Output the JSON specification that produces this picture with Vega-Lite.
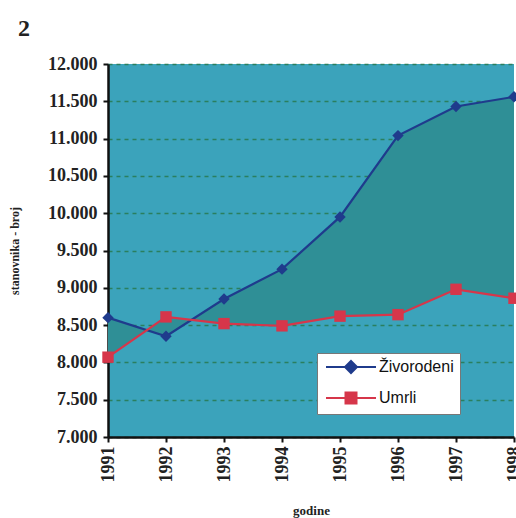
{
  "$schema": "https://vega.github.io/schema/vega-lite/v6.json",
  "autosize": {"type": "none"},
  "padding": {"left": 108, "top": 64, "right": 2, "bottom": 81},
  "width": 406,
  "height": 373,
  "background": "#ffffff",
  "title": {"text": "2", "anchor": "start", "frame": "group", "dx": -90, "offset": 14, "fontSize": 24, "font": "Liberation Serif", "fontWeight": "bold", "color": "#222222"},
  "data": {"values": [
    {"godina": 1991, "Živorodeni": 8600, "Umrli": 8070},
    {"godina": 1992, "Živorodeni": 8350, "Umrli": 8610},
    {"godina": 1993, "Živorodeni": 8850, "Umrli": 8520},
    {"godina": 1994, "Živorodeni": 9250, "Umrli": 8490},
    {"godina": 1995, "Živorodeni": 9950, "Umrli": 8620},
    {"godina": 1996, "Živorodeni": 11040, "Umrli": 8640},
    {"godina": 1997, "Živorodeni": 11430, "Umrli": 8980},
    {"godina": 1998, "Živorodeni": 11560, "Umrli": 8860}
  ]},
  "config": {
    "view": {"fill": "#3ba3bb", "stroke": null},
    "axis": {
      "labelFont": "Liberation Serif", "labelFontWeight": "bold", "labelFontSize": 18, "labelColor": "#222222",
      "titleFont": "Liberation Serif", "titleFontWeight": "bold", "titleColor": "#222222",
      "domainColor": "#111111", "domainWidth": 2.5, "tickColor": "#111111", "tickWidth": 2, "tickSize": 5, "labelOverlap": false
    },
    "legend": {"title": null, "orient": "none", "legendX": 209, "legendY": 289, "fillColor": "#ffffff", "strokeColor": "#777777", "padding": 6,
      "labelFont": "Liberation Sans", "labelFontSize": 16, "labelColor": "#111111", "labelOffset": 40, "rowPadding": 11, "symbolSize": 100, "symbolStrokeWidth": 2, "symbolOpacity": 1}
  },
  "layer": [
    {
      "mark": {"type": "area", "fill": "#2f8f96", "opacity": 1},
      "encoding": {
        "x": {"field": "godina", "type": "quantitative", "scale": {"domain": [1991, 1998], "nice": false},
          "axis": {"title": "godine", "values": [1991, 1992, 1993, 1994, 1995, 1996, 1997, 1998], "format": "d", "labelAngle": 270, "labelPadding": 4, "grid": false, "titleFontSize": 13, "titleY": 73, "titleBaseline": "middle"}},
        "y": {"field": "Živorodeni", "type": "quantitative", "scale": {"domain": [7000, 12000], "nice": false, "zero": false},
          "axis": {"title": "stanovnika - broj", "values": [7000, 7500, 8000, 8500, 9000, 9500, 10000, 10500, 11000, 11500, 12000], "labelExpr": "replace(format(datum.value, ',.0f'), ',', '.')", "labelPadding": 6, "grid": true, "gridColor": "#2a7f5e", "gridDash": [4, 4], "gridWidth": 1.5, "titleFontSize": 12, "titleX": -87}},
        "y2": {"field": "Umrli"}
      }
    },
    {
      "transform": [{"fold": ["Živorodeni", "Umrli"], "as": ["serija", "broj"]}],
      "encoding": {
        "x": {"field": "godina", "type": "quantitative",
          "axis": {"title": "godine", "values": [1991, 1992, 1993, 1994, 1995, 1996, 1997, 1998], "format": "d", "labelAngle": 270, "labelPadding": 4, "grid": false, "titleFontSize": 13, "titleY": 73, "titleBaseline": "middle"}},
        "y": {"field": "broj", "type": "quantitative",
          "axis": {"title": "stanovnika - broj", "values": [7000, 7500, 8000, 8500, 9000, 9500, 10000, 10500, 11000, 11500, 12000], "labelExpr": "replace(format(datum.value, ',.0f'), ',', '.')", "labelPadding": 6, "grid": true, "gridColor": "#2a7f5e", "gridDash": [4, 4], "gridWidth": 1.5, "titleFontSize": 12, "titleX": -87}},
        "color": {"field": "serija", "type": "nominal", "scale": {"domain": ["Živorodeni", "Umrli"], "range": ["#1f3b8c", "#d6364a"]}}
      },
      "layer": [
        {
          "mark": {"type": "line", "strokeWidth": 2.2}
        },
        {
          "mark": {"type": "point", "filled": true, "opacity": 1, "size": 130},
          "encoding": {
            "shape": {"condition": {"test": "datum.serija === 'Umrli'", "value": "square"}, "value": "diamond"}
          }
        },
        {
          "transform": [{"filter": "false"}],
          "mark": {"type": "point", "filled": true, "opacity": 1, "strokeWidth": 2},
          "encoding": {
            "stroke": {"field": "serija", "type": "nominal", "scale": {"domain": ["Živorodeni", "Umrli"], "range": ["#1f3b8c", "#d6364a"]}},
            "shape": {"field": "serija", "type": "nominal", "scale": {"domain": ["Živorodeni", "Umrli"], "range": ["M-1,0H9 M4,-1.2L5.2,0L4,1.2L2.8,0Z", "M-1,0H9 M2.9,-1.1H5.1V1.1H2.9Z"]}}
          }
        }
      ]
    }
  ]
}
